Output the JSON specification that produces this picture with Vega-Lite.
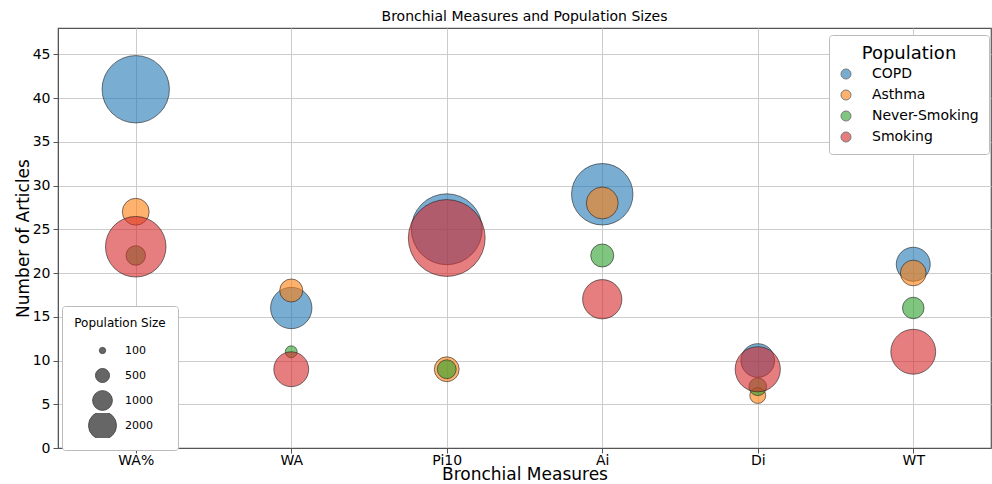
{
  "$schema": "https://vega.github.io/schema/vega-lite/v6.json",
  "autosize": {"type": "none"},
  "width": 933,
  "height": 420,
  "padding": {"left": 58, "top": 28, "right": 1, "bottom": 36},
  "background": "white",
  "title": {"text": "Bronchial Measures and Population Sizes", "font": "DejaVu Sans", "fontSize": 14, "fontWeight": "normal", "color": "#000", "offset": 4},
  "config": {
    "font": "DejaVu Sans",
    "view": {"stroke": "#555", "strokeWidth": 1.2},
    "axis": {"gridColor": "#cccccc", "gridWidth": 1, "domainColor": "#555", "tickColor": "#555", "tickSize": 5, "labelFont": "DejaVu Sans", "titleFont": "DejaVu Sans", "labelColor": "#000", "titleColor": "#000", "titleFontWeight": "normal", "labelFontSize": 14, "titleFontSize": 17}
  },
  "data": {"values": [
    {"measure": "WA%", "population": "COPD", "articles": 41, "size": 11630},
    {"measure": "WA", "population": "COPD", "articles": 16, "size": 4385},
    {"measure": "Pi10", "population": "COPD", "articles": 25, "size": 12890},
    {"measure": "Ai", "population": "COPD", "articles": 29, "size": 9680},
    {"measure": "Di", "population": "COPD", "articles": 10, "size": 2910},
    {"measure": "WT", "population": "COPD", "articles": 21, "size": 2960},
    {"measure": "WA%", "population": "Asthma", "articles": 27, "size": 1850},
    {"measure": "WA", "population": "Asthma", "articles": 18, "size": 1360},
    {"measure": "Pi10", "population": "Asthma", "articles": 9, "size": 1580},
    {"measure": "Ai", "population": "Asthma", "articles": 28, "size": 2610},
    {"measure": "Di", "population": "Asthma", "articles": 6, "size": 650},
    {"measure": "WT", "population": "Asthma", "articles": 20, "size": 1690},
    {"measure": "WA%", "population": "Never-Smoking", "articles": 22, "size": 975},
    {"measure": "WA", "population": "Never-Smoking", "articles": 11, "size": 360},
    {"measure": "Pi10", "population": "Never-Smoking", "articles": 9, "size": 915},
    {"measure": "Ai", "population": "Never-Smoking", "articles": 22, "size": 1360},
    {"measure": "Di", "population": "Never-Smoking", "articles": 7, "size": 805},
    {"measure": "WT", "population": "Never-Smoking", "articles": 16, "size": 1190},
    {"measure": "WA%", "population": "Smoking", "articles": 23, "size": 9400},
    {"measure": "WA", "population": "Smoking", "articles": 9, "size": 3115},
    {"measure": "Pi10", "population": "Smoking", "articles": 24, "size": 15130},
    {"measure": "Ai", "population": "Smoking", "articles": 17, "size": 3955},
    {"measure": "Di", "population": "Smoking", "articles": 9, "size": 5240},
    {"measure": "WT", "population": "Smoking", "articles": 11, "size": 5165}
  ]},
  "mark": {"type": "point", "shape": "circle", "filled": true, "fillOpacity": 0.6, "stroke": "#222", "strokeOpacity": 0.6, "strokeWidth": 1},
  "encoding": {
    "x": {"field": "measure", "type": "nominal", "sort": ["WA%", "WA", "Pi10", "Ai", "Di", "WT"],
      "scale": {"type": "point", "padding": 0.5},
      "axis": {"title": "Bronchial Measures", "labelAngle": 0, "grid": true, "titlePadding": -1, "labelPadding": 0}},
    "y": {"field": "articles", "type": "quantitative",
      "scale": {"domain": [0, 48], "nice": false, "zero": true},
      "axis": {"title": "Number of Articles", "values": [0, 5, 10, 15, 20, 25, 30, 35, 40, 45], "grid": true, "titlePadding": 0, "labelPadding": 3}},
    "color": {"field": "population", "type": "nominal", "sort": ["COPD", "Asthma", "Never-Smoking", "Smoking"],
      "scale": {"domain": ["COPD", "Asthma", "Never-Smoking", "Smoking"], "range": ["#1f77b4", "#ff7f0e", "#2ca02c", "#d62728"]},
      "legend": {"title": "Population", "orient": "none", "legendX": 771, "legendY": 7, "titleFontSize": 18, "titleFontWeight": "normal", "titleColor": "#000", "titleAnchor": "middle", "labelFontSize": 14, "labelColor": "#000", "symbolType": "circle", "symbolSize": 100, "symbolOpacity": 0.6, "symbolStrokeColor": "#222", "symbolStrokeWidth": 1, "rowPadding": 7, "labelOffset": 19, "padding": 10, "fillColor": "white", "strokeColor": "#bbb", "cornerRadius": 3, "titlePadding": 4}},
    "size": {"field": "size", "type": "quantitative",
      "scale": {"type": "linear", "domain": [0, 16000], "range": [0, 6240], "zero": true},
      "legend": {"title": "Population Size", "values": [100, 500, 1000, 2000], "format": "d", "orient": "none", "legendX": 4, "legendY": 278, "titleFontSize": 12, "titleFontWeight": "normal", "titleColor": "#000", "titleAnchor": "middle", "labelFontSize": 11, "labelColor": "#000", "symbolType": "circle", "symbolFillColor": "#333", "symbolStrokeColor": "#111", "symbolOpacity": 0.75, "symbolStrokeWidth": 1, "clipHeight": 25, "rowPadding": 0, "labelOffset": 8, "padding": 12, "fillColor": "white", "strokeColor": "#bbb", "cornerRadius": 3, "titlePadding": 8}}
  }
}
